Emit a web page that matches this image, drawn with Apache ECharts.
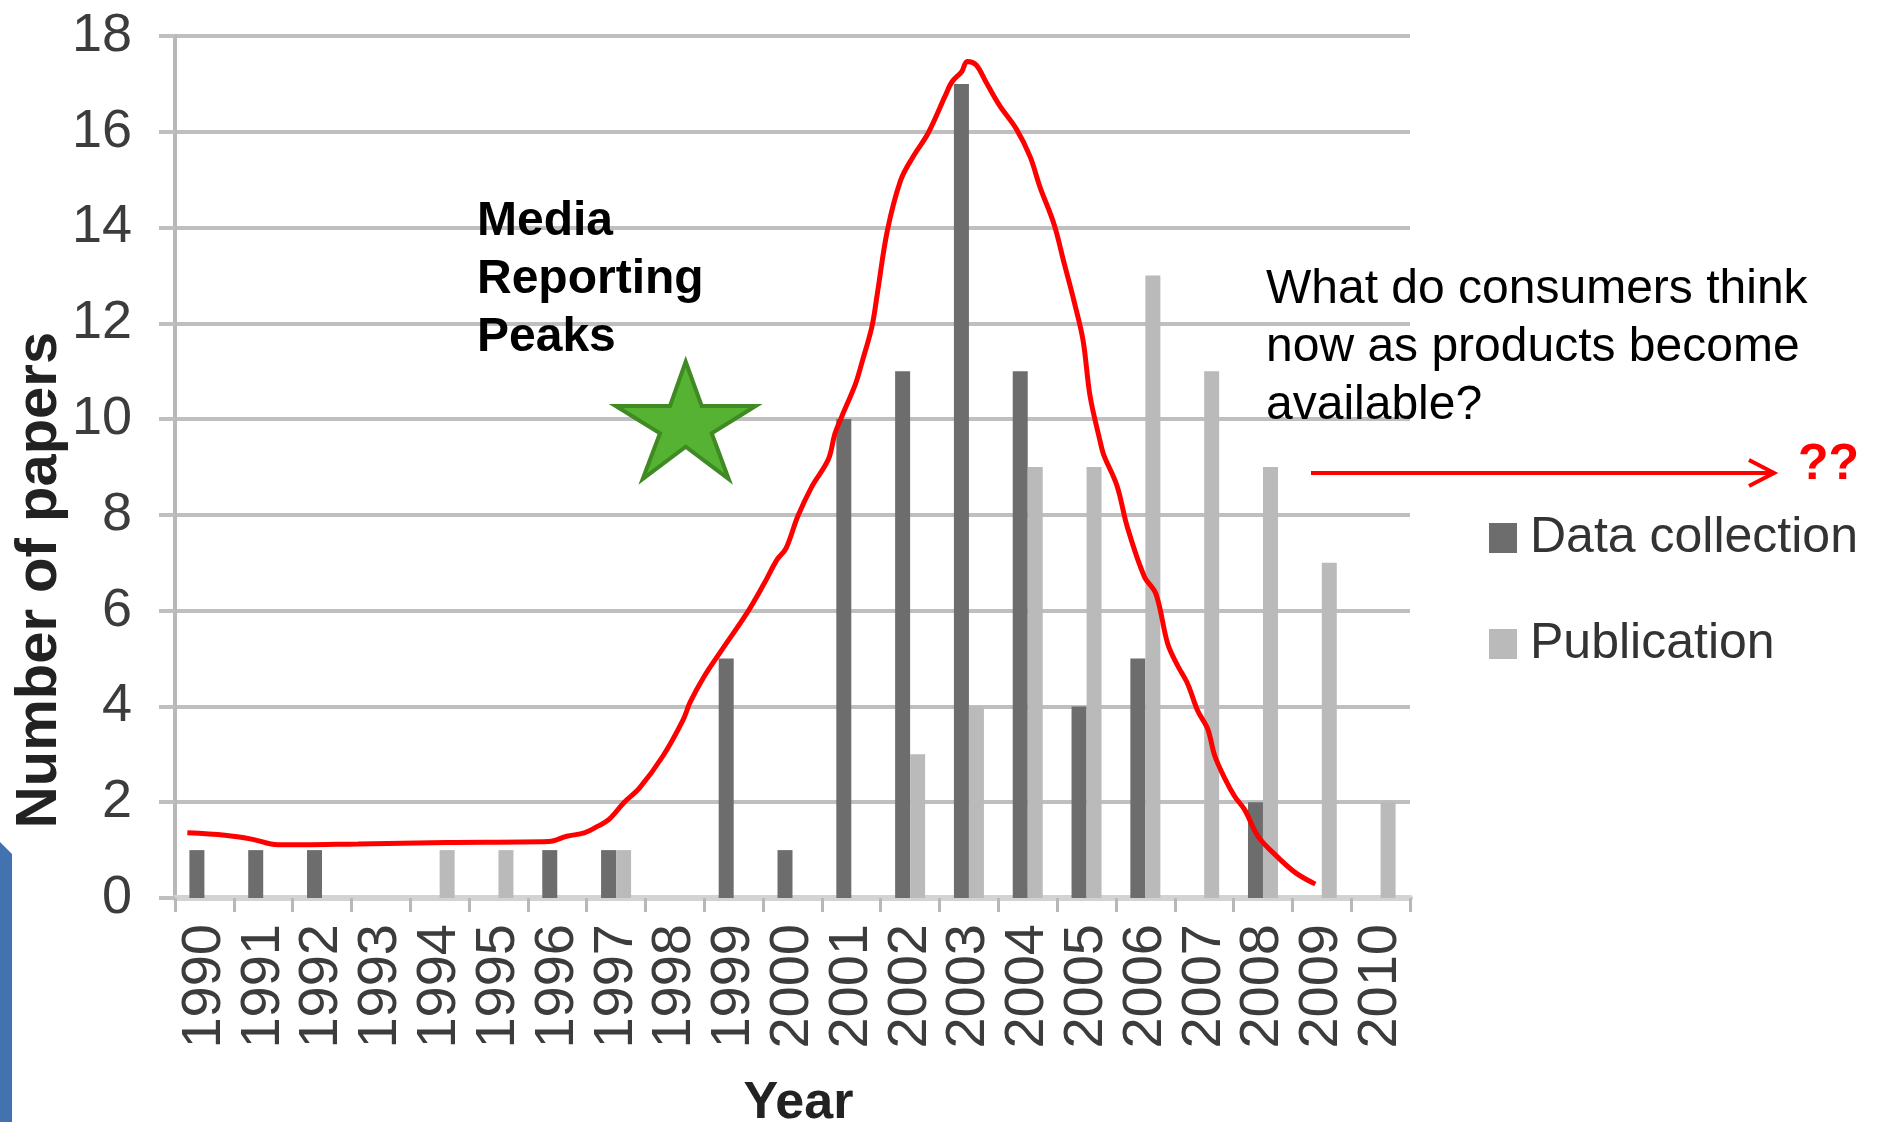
<!DOCTYPE html>
<html>
<head>
<meta charset="utf-8">
<script src="https://cdn.jsdelivr.net/npm/echarts@6/dist/echarts.min.js"></script>
<style>
html,body{margin:0;padding:0;background:#fff;}
#chart{width:1885px;height:1122px;}
</style>
</head>
<body>
<div id="chart"></div>
<script>
// ---- data ----
const years = ['1990','1991','1992','1993','1994','1995','1996','1997','1998','1999','2000',
               '2001','2002','2003','2004','2005','2006','2007','2008','2009','2010'];
const dataCollection = [1,1,1,0,0,0,1,1,0,5,1,10,11,17,11,4,5,0,2,0,0];
const publication    = [0,0,0,0,1,1,0,1,0,0,0,0,3,4,9,9,13,11,9,7,2];
// hand-drawn red trend curve (fractional year, value)
const trendYear  = [1989.71,1990.35,1990.80,1991.25,1992.61,1994.12,1995.86,1996.16,1996.46,1996.69,1996.88,
                    1997.14,1997.40,1997.80,1998.14,1998.26,1998.49,1998.77,1999.23,1999.51,1999.74,1999.89,
                    2000.09,2000.32,2000.61,2000.72,2000.84,2001.07,2001.18,2001.35,2001.44,2001.61,2001.84,
                    2002.05,2002.31,2002.60,2002.71,2002.88,2002.97,2003.12,2003.29,2003.52,2003.81,2004.04,
                    2004.21,2004.45,2004.62,2004.79,2004.94,2005.06,2005.23,2005.29,2005.52,2005.69,2005.98,
                    2006.18,2006.38,2006.55,2006.72,2006.89,2007.06,2007.18,2007.35,2007.52,2007.69,2007.92,
                    2008.21,2008.55,2008.89];
const trendValue = [1.36,1.31,1.23,1.11,1.13,1.16,1.18,1.29,1.36,1.50,1.64,
                    2.00,2.30,2.97,3.72,4.09,4.61,5.13,5.96,6.55,7.07,7.30,
                    7.97,8.57,9.16,9.69,10.06,10.73,11.18,11.93,12.60,13.92,14.99,
                    15.48,15.98,16.76,17.04,17.26,17.47,17.40,17.04,16.55,16.05,15.48,
                    14.84,14.06,13.25,12.45,11.65,10.48,9.54,9.26,8.60,7.76,6.72,
                    6.35,5.31,4.85,4.47,3.91,3.53,2.97,2.50,2.12,1.84,1.28,
                    0.90,0.53,0.29];
const yMin = 0, yMax = 18, yStep = 2;
const seriesNames = ['Data collection', 'Publication'];
const yAxisTitle = 'Number of papers';
const xAxisTitle = 'Year';
const mediaNote = 'Media\nReporting\nPeaks';
const questionNote = 'What do consumers think\nnow as products become\navailable?';
const questionMarks = '??';

// ---- chart ----
const FONT = '"Liberation Sans", Arial, sans-serif';
const chart = echarts.init(document.getElementById('chart'), null, {renderer: 'canvas'});
const trend = trendYear.map((y, i) => [y, trendValue[i]]);

chart.setOption({
  backgroundColor: '#ffffff',
  animation: false,
  grid: {left: 175, right: 475, top: 36, bottom: 224, containLabel: false, outerBoundsMode: 'none'},
  legend: {
    data: seriesNames,
    orient: 'vertical',
    left: 1484,
    top: 503,
    itemWidth: 28,
    itemHeight: 30,
    itemGap: 46,
    icon: 'rect',
    textStyle: {fontFamily: FONT, fontSize: 50, color: '#333333', lineHeight: 60, padding: [0, 0, 0, 8]}
  },
  xAxis: [{
    type: 'category',
    data: years,
    boundaryGap: true,
    name: xAxisTitle,
    nameLocation: 'middle',
    nameGap: 180,
    nameTextStyle: {fontFamily: FONT, fontSize: 52, fontWeight: 'bold', color: '#222', padding: [0, 0, 0, 12]},
    axisLine: {show: true, lineStyle: {color: '#d3d3d3', width: 6}},
    axisTick: {show: true, alignWithLabel: false, length: 14, lineStyle: {color: '#b8b8b8', width: 3}},
    axisLabel: {rotate: 90, margin: 26, fontFamily: FONT, fontSize: 56, color: '#3c3c3c', interval: 0},
    splitLine: {show: false}
  }, {
    type: 'value',
    min: 1989.5,
    max: 2010.5,
    show: false
  }],
  yAxis: {
    type: 'value',
    min: yMin, max: yMax, interval: yStep,
    axisLine: {show: true, lineStyle: {color: '#b8b8b8', width: 4}},
    axisTick: {show: true, length: 16, lineStyle: {color: '#bfbfbf', width: 4}},
    axisLabel: {margin: 43, fontFamily: FONT, fontSize: 54, color: '#3c3c3c'},
    splitLine: {show: true, lineStyle: {color: '#bfbfbf', width: 4}}
  },
  series: [{
    name: seriesNames[0],
    type: 'bar',
    data: dataCollection,
    barWidth: 15,
    barGap: '0%',
    itemStyle: {color: '#6d6d6d'},
    z: 2
  }, {
    name: seriesNames[1],
    type: 'bar',
    data: publication,
    barWidth: 15,
    barGap: '0%',
    itemStyle: {color: '#bababa'},
    z: 2
  }, {
    name: 'trend',
    type: 'line',
    xAxisIndex: 1,
    data: trend,
    showSymbol: false,
    smooth: 0.35,
    lineStyle: {color: '#ff0000', width: 5},
    z: 5
  }],
  graphic: [
    {
      type: 'text', x: 40, y: 580, rotation: Math.PI / 2, z: 10,
      style: {text: yAxisTitle, fontFamily: FONT, fontSize: 58, fontWeight: 'bold', fill: '#222',
              align: 'center', verticalAlign: 'middle'}
    },
    {
      type: 'text', left: 477, top: 193, z: 10,
      style: {text: mediaNote, fontFamily: FONT, fontSize: 48, fontWeight: 'bold', lineHeight: 58, fill: '#000'}
    },
    {
      type: 'polygon', z: 10,
      shape: {points: [[685.7,361.7],[701.7,406],[755.7,406],[711.7,433.3],[728.7,479],
                       [685.7,446.7],[642.7,479],[660,433.3],[615.7,406],[670,406]]},
      style: {fill: '#55b233', stroke: '#3f8a22', lineWidth: 4, lineJoin: 'miter'}
    },
    {
      type: 'text', left: 1266, top: 261, z: 10,
      style: {text: questionNote, fontFamily: FONT, fontSize: 48, lineHeight: 58, fill: '#000'}
    },
    {
      type: 'line', z: 10,
      shape: {x1: 1311, y1: 473, x2: 1772, y2: 473},
      style: {stroke: '#ff0000', lineWidth: 4}
    },
    {
      type: 'polyline', z: 10,
      shape: {points: [[1749, 460], [1774, 473], [1749, 486]]},
      style: {stroke: '#ff0000', lineWidth: 4, fill: null}
    },
    {
      type: 'text', left: 1798, top: 440, z: 10,
      style: {text: questionMarks, fontFamily: FONT, fontSize: 50, fontWeight: 'bold', fill: '#ff0000'}
    },
    {
      type: 'polygon', z: 10,
      shape: {points: [[0, 842], [12, 854], [12, 1122], [0, 1122]]},
      style: {fill: '#4272b0'}
    }
  ]
});
</script>
</body>
</html>
